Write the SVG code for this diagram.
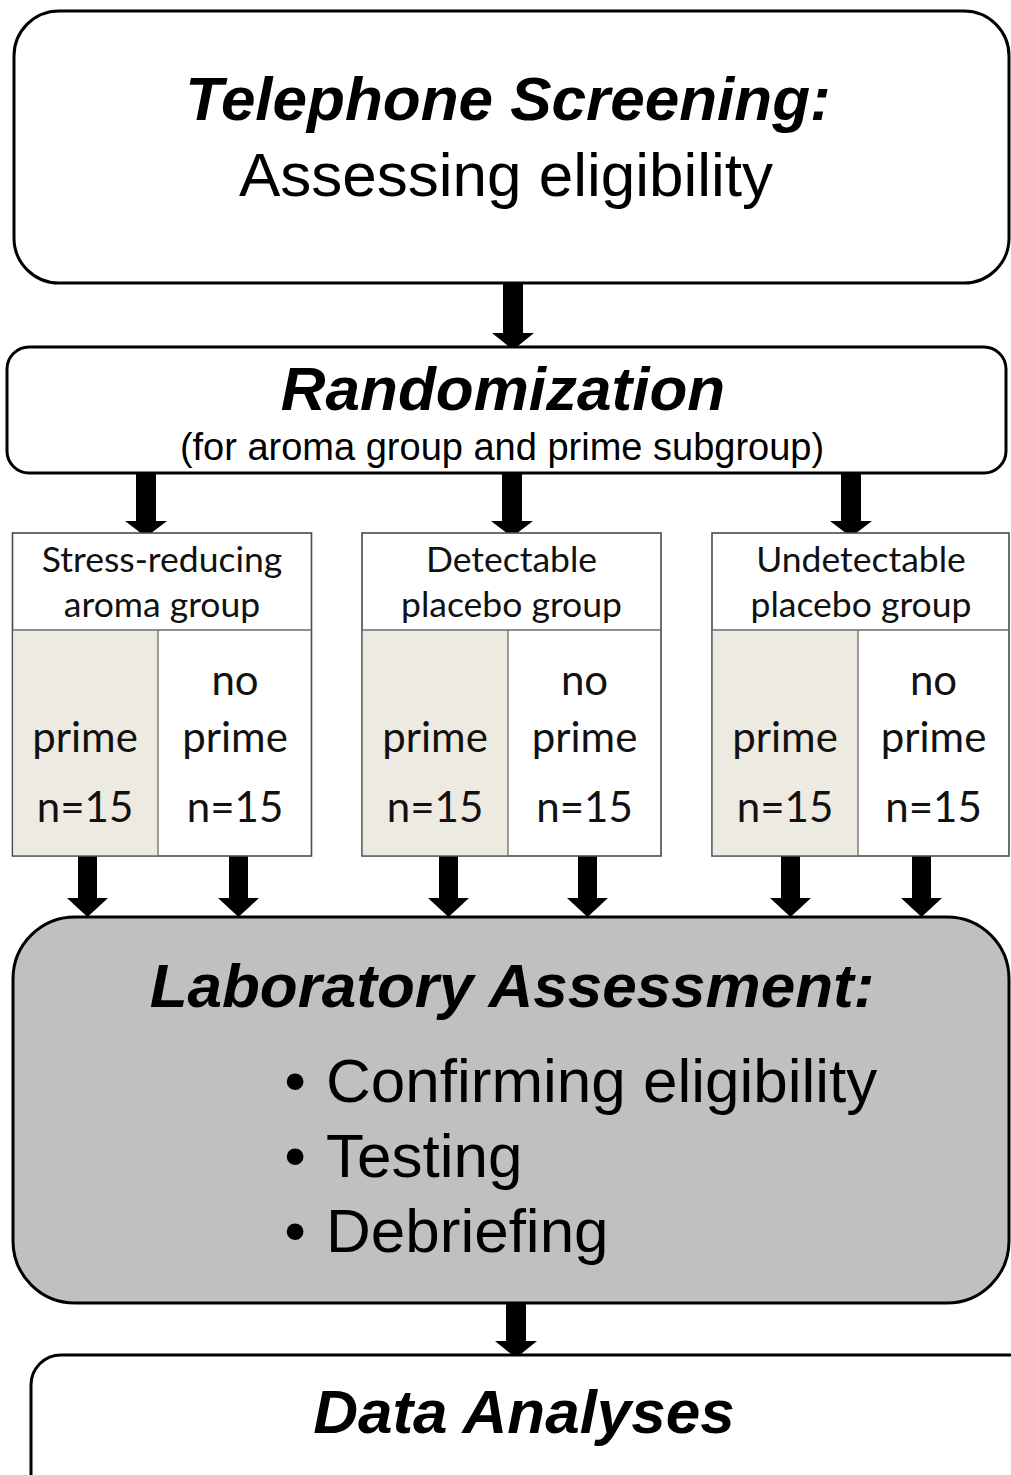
<svg xmlns="http://www.w3.org/2000/svg" width="1011" height="1475" viewBox="0 0 1011 1475">
<style>
.rbox{fill:#fff;stroke:#000;stroke-width:3}
.lab{fill:#c0c0c0;stroke:#000;stroke-width:3}
.grp{fill:#fff;stroke:#4a4a4a;stroke-width:1.6}
.shade{fill:#edeae1}
.div{stroke:#6a6a6a;stroke-width:1.3}
.t{font-family:"Liberation Sans",Arial,sans-serif;fill:#000;text-anchor:middle}
.bi{font-weight:bold;font-style:italic;font-size:62px}
.r62{font-size:62px}
.st{text-anchor:start}
.c{font-family:Lato,"Open Sans",sans-serif;fill:#111;text-anchor:middle}
.h{font-size:35.5px}
.cell{font-size:42px}
.arr{fill:#000}
</style>
<rect width="1011" height="1475" fill="#fff"/>
<g id="connectors">
<path class="arr" d="M503,283 H523 V333 H534 L513,350 L492,333 H503 Z"/>
<path class="arr" d="M136,473 H156 V521 H167 L146,537 L125,521 H136 Z"/>
<path class="arr" d="M502,473 H522 V521 H533 L512,537 L491,521 H502 Z"/>
<path class="arr" d="M841,473 H861 V521 H872 L851,537 L830,521 H841 Z"/>
<path class="arr" d="M78,856 H97 V898 H108 L87.5,917 L67,898 H78 Z"/>
<path class="arr" d="M229,856 H248 V898 H259 L238.5,917 L218,898 H229 Z"/>
<path class="arr" d="M439,856 H458 V898 H469 L448.5,917 L428,898 H439 Z"/>
<path class="arr" d="M578,856 H597 V898 H608 L587.5,917 L567,898 H578 Z"/>
<path class="arr" d="M781,856 H800 V898 H811 L790.5,917 L770,898 H781 Z"/>
<path class="arr" d="M912,856 H931 V898 H942 L921.5,917 L901,898 H912 Z"/>
<path class="arr" d="M506,1303 H526 V1341 H537 L516,1358 L495,1341 H506 Z"/>
</g>
<g id="telephone">
<rect class="rbox" x="14" y="11" width="995" height="272" rx="45" ry="45"/>
<text class="t bi" x="508" y="120">Telephone Screening:</text>
<text class="t r62" x="506" y="196">Assessing eligibility</text>
</g>
<g id="randomization">
<rect class="rbox" x="7" y="347" width="999" height="126" rx="22" ry="22"/>
<text class="t bi" x="503" y="410">Randomization</text>
<text class="t" x="502" y="460" font-size="38">(for aroma group and prime subgroup)</text>
</g>
<g id="group-aroma">
<rect class="grp" x="12.5" y="533" width="299" height="323"/>
<rect class="shade" x="13.3" y="630.5" width="144.7" height="224.7"/>
<line class="div" x1="12.5" y1="630" x2="311.5" y2="630"/>
<line class="div" x1="158" y1="630" x2="158" y2="856"/>
<text class="c h" x="162" y="572">Stress-reducing</text>
<text class="c h" x="162" y="617">aroma group</text>
<text class="c cell" x="85" y="752">prime</text>
<text class="c cell" x="85" y="822">n=15</text>
<text class="c cell" x="235" y="695">no</text>
<text class="c cell" x="235" y="752">prime</text>
<text class="c cell" x="235" y="822">n=15</text>
</g>
<g id="group-detectable">
<rect class="grp" x="362" y="533" width="299" height="323"/>
<rect class="shade" x="362.8" y="630.5" width="145.2" height="224.7"/>
<line class="div" x1="362" y1="630" x2="661" y2="630"/>
<line class="div" x1="508" y1="630" x2="508" y2="856"/>
<text class="c h" x="511.5" y="572">Detectable</text>
<text class="c h" x="511.5" y="617">placebo group</text>
<text class="c cell" x="435" y="752">prime</text>
<text class="c cell" x="435" y="822">n=15</text>
<text class="c cell" x="584.5" y="695">no</text>
<text class="c cell" x="584.5" y="752">prime</text>
<text class="c cell" x="584.5" y="822">n=15</text>
</g>
<g id="group-undetectable">
<rect class="grp" x="712" y="533" width="297" height="323"/>
<rect class="shade" x="712.8" y="630.5" width="145.2" height="224.7"/>
<line class="div" x1="712" y1="630" x2="1009" y2="630"/>
<line class="div" x1="858" y1="630" x2="858" y2="856"/>
<text class="c h" x="861" y="572">Undetectable</text>
<text class="c h" x="861" y="617">placebo group</text>
<text class="c cell" x="785" y="752">prime</text>
<text class="c cell" x="785" y="822">n=15</text>
<text class="c cell" x="933.5" y="695">no</text>
<text class="c cell" x="933.5" y="752">prime</text>
<text class="c cell" x="933.5" y="822">n=15</text>
</g>
<g id="laboratory">
<rect class="lab" x="13" y="917" width="996" height="386" rx="62" ry="62"/>
<text class="t bi" x="512" y="1007">Laboratory Assessment:</text>
<text class="t r62" x="295" y="1102">•</text>
<text class="t r62 st" x="326" y="1102">Confirming eligibility</text>
<text class="t r62" x="295" y="1177">•</text>
<text class="t r62 st" x="326" y="1177">Testing</text>
<text class="t r62" x="295" y="1252">•</text>
<text class="t r62 st" x="326" y="1252">Debriefing</text>
</g>
<g id="data-analyses">
<rect class="rbox" x="31" y="1355" width="1010" height="180" rx="30" ry="30"/>
<text class="t bi" x="524" y="1433">Data Analyses</text>
</g>
</svg>
